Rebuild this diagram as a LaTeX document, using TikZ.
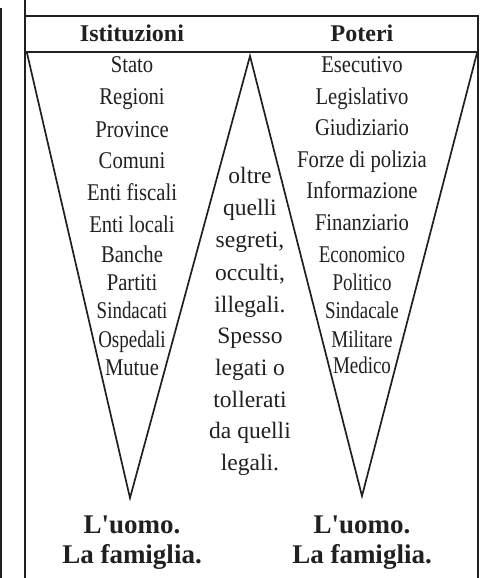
\documentclass[tikz,border=0pt]{standalone}
\usepackage{fontspec}
\setmainfont{Liberation Serif}
\newfontfamily\cond[FakeStretch=0.86]{Liberation Serif}
\newfontfamily\condn[FakeStretch=0.79]{Liberation Serif}
\newfontfamily\footfont[Ligatures=TeXOff]{Liberation Serif}
\definecolor{ink}{HTML}{231F20}
\begin{document}
\begin{tikzpicture}[x=1pt,y=-1pt,
  frame/.style={draw=ink,line width=1.8pt},
  thin/.style={draw=ink,line width=1.5pt},
  item/.style={anchor=base,inner sep=0pt,text=ink,font=\cond\fontsize{24}{28}\selectfont},
  itemn/.style={anchor=base,inner sep=0pt,text=ink,font=\condn\fontsize{24}{28}\selectfont},
  mid/.style={anchor=base,inner sep=0pt,text=ink,font=\fontsize{23.5}{28}\selectfont},
  head/.style={anchor=base,inner sep=0pt,text=ink,font=\bfseries\fontsize{24}{28}\selectfont},
  foot/.style={anchor=base,inner sep=0pt,text=ink,font=\footfont\bfseries\fontsize{27}{30}\selectfont}]
\useasboundingbox (0,0) rectangle (481,578);
% frame
\coordinate (lt) at (1,8); \coordinate (lb) at (1,578);
\draw[thin] (lt) -- (lb);
\coordinate (a1) at (25,0); \coordinate (a2) at (25,578);
\coordinate (t1) at (25,16); \coordinate (t2) at (478,16);
\coordinate (r2) at (478,578);
\coordinate (h1) at (25,52); \coordinate (h2) at (478,52);
\draw[frame] (a1) -- (a2);
\draw[frame] (t1) -- (t2) -- (r2);
\draw[frame] (h1) -- (h2);
% W shape
\coordinate (w1) at (27,53);
\coordinate (w2) at (130,498);
\coordinate (w3) at (250,56);
\coordinate (w4) at (362,496);
\coordinate (w5) at (477,53);
\draw[frame,line width=1.7pt,line join=miter] (w1) -- (w2) -- (w3) -- (w4) -- (w5);
% headers
\node[head] (hI) at (132,42) {Istituzioni};
\node[head] (hP) at (362,42) {Poteri};
% left column
\node[item] (l1) at (132,73) {Stato};
\node[item] (l2) at (132,104) {Regioni};
\node[item] (l3) at (132,137) {Province};
\node[item] (l4) at (132,168) {Comuni};
\node[item] (l5) at (132,200) {Enti fiscali};
\node[item] (l6) at (132,232) {Enti locali};
\node[item] (l7) at (132,262) {Banche};
\node[item] (l8) at (132,290) {Partiti};
\node[itemn] (l9) at (132,318) {Sindacati};
\node[itemn] (l10) at (132,347) {Ospedali};
\node[item] (l11) at (132,375) {Mutue};
% right column
\node[item] (r1) at (362,73) {Esecutivo};
\node[item] (r2n) at (362,104) {Legislativo};
\node[item] (r3) at (362,135) {Giudiziario};
\node[item] (r4) at (362,167) {Forze di polizia};
\node[item] (r5) at (362,198) {Informazione};
\node[item] (r6) at (362,230) {Finanziario};
\node[itemn] (r7) at (362,262) {Economico};
\node[itemn] (r8) at (362,290) {Politico};
\node[itemn] (r9) at (362,318) {Sindacale};
\node[itemn] (r10) at (362,347) {Militare};
\node[itemn] (r11) at (362,373) {Medico};
% middle
\node[mid] (m1) at (250,183) {oltre};
\node[mid] (m2) at (250,215) {quelli};
\node[mid] (m3) at (250,247) {segreti,};
\node[mid] (m4) at (250,280) {occulti,};
\node[mid] (m5) at (250,312) {illegali.};
\node[mid] (m6) at (250,343) {Spesso};
\node[mid] (m7) at (250,375) {legati o};
\node[mid] (m8) at (250,407) {tollerati};
\node[mid] (m9) at (250,438) {da quelli};
\node[mid] (m10) at (250,470) {legali.};
% footers
\node[foot] (f1) at (132,533) {L'uomo.};
\node[foot] (f2) at (132,563) {La famiglia.};
\node[foot] (f3) at (362,533) {L'uomo.};
\node[foot] (f4) at (362,563) {La famiglia.};
\end{tikzpicture}
\end{document}
